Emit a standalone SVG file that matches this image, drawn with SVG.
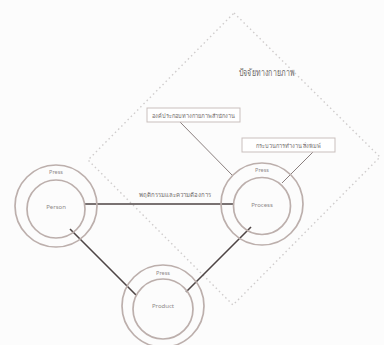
<svg xmlns="http://www.w3.org/2000/svg" width="384" height="345" viewBox="0 0 384 345">
<style>
.ring{fill:none;stroke:#bcafac;stroke-width:1.7}
.conn{stroke:#4e4545;stroke-width:1.6;fill:none}
.thin{stroke:#8a7f7e;stroke-width:1;fill:none}
.box{fill:#fff;stroke:#c9bfbd;stroke-width:1}
.t{font-family:"Noto Sans","Liberation Sans",sans-serif;fill:#8d8888;text-anchor:middle}
.th{font-family:"Noto Sans","Liberation Sans",sans-serif;fill:#6f6a6a;text-anchor:middle}
</style>
<rect width="384" height="345" fill="#fcfcfc"/>
<g id="frame">
<polygon points="234,13 380,157 233,305 88,160" fill="none" stroke="#cfcccc" stroke-width="1.4" stroke-dasharray="1.5,3"/>
<text class="th" x="267" y="76" font-size="10" textLength="56" lengthAdjust="spacingAndGlyphs" fill="#5e5a5a">ปัจจัยทางกายภาพ</text>
</g>
<g id="connectors">
<line class="conn" x1="85" y1="204" x2="233" y2="204"/>
<line class="conn" x1="70" y1="229" x2="136" y2="295"/>
<line class="conn" x1="251" y1="227" x2="186" y2="292"/>
<line class="thin" x1="180" y1="122" x2="232" y2="175"/>
<line class="thin" x1="313" y1="152" x2="282" y2="183"/>
<text class="th" x="175" y="197" font-size="6">พฤติกรรมและความต้องการ</text>
</g>
<g id="box1">
<rect class="box" x="147" y="108" width="93" height="14"/>
<text class="th" x="193.5" y="117.5" font-size="5.6">องค์ประกอบทางกายภาพสำนักงาน</text>
</g>
<g id="box2">
<rect class="box" x="242" y="138" width="93" height="14"/>
<text class="th" x="288.5" y="147.5" font-size="5.6">กระบวนการทำงาน สิ่งพิมพ์</text>
</g>
<g id="person">
<circle class="ring" cx="56" cy="206" r="41"/>
<circle class="ring" cx="56" cy="209" r="29"/>
<text class="t" x="56" y="174" font-size="5.5">Press</text>
<text class="t" x="56" y="209" font-size="6">Person</text>
</g>
<g id="process">
<circle class="ring" cx="262" cy="204" r="41"/>
<circle class="ring" cx="262" cy="206" r="28.5"/>
<text class="t" x="262" y="172" font-size="5.5">Press</text>
<text class="t" x="262" y="207" font-size="6">Process</text>
</g>
<g id="product">
<circle class="ring" cx="163" cy="306" r="41"/>
<circle class="ring" cx="163" cy="309" r="30"/>
<text class="t" x="163" y="275" font-size="5.5">Press</text>
<text class="t" x="163" y="308" font-size="6">Product</text>
</g>
</svg>
